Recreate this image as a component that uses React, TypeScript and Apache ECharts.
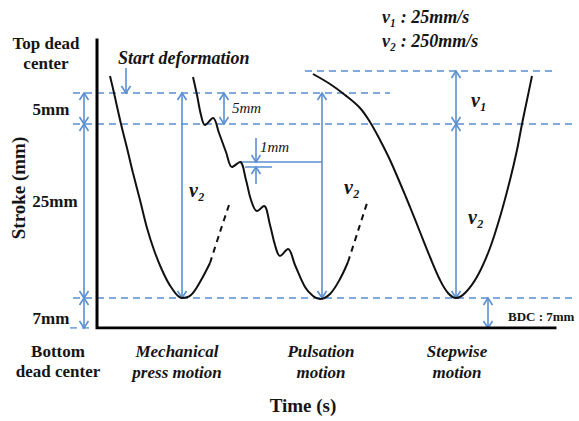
import React, { useEffect, useRef } from 'react';
import * as echarts from 'echarts';

// Schematic stroke levels (stroke units, 0 = axis)
const LEVEL_TOP = 257;      // stepwise top dead center
const LEVEL_START = 235;    // start of deformation
const LEVEL_DEFORM = 204;   // after 5mm
const LEVEL_BDC = 30;       // bottom dead center (7mm above axis)

const axisFrame = [[0, 288], [0, 0], [458, 0]];

// guide lines: [y, xFrom, xTo]
const dashedGuides = [
  [LEVEL_TOP, 208, 456],
  [LEVEL_START, -24, 293],
  [LEVEL_DEFORM, -24, 476],
  [LEVEL_BDC, -24, 478],
  [0, -27, -5],
];
const solidGuides = [
  [166, 143, 225],
  [161, 148, 175],
];

const mechanicalSolid = [
  [13, 252], [17, 235], [24, 204], [30, 180], [36, 155], [43, 128], [50, 100],
  [57, 78], [65, 58], [74, 41], [85, 30], [94, 33], [103, 46], [113, 65],
];
const mechanicalDashed = [[113, 65], [123, 96], [133, 126]];

const pulsationSolid = [
  [96, 251], [100, 233], [104, 213], [108, 203], [116, 210], [122, 195], [129, 176],
  [135, 161], [143, 166], [149, 148], [154, 128], [160, 117], [167, 122], [173, 103],
  [178, 83], [183, 72], [191, 79], [198, 63], [208, 41], [216, 32], [223, 29],
  [233, 34], [243, 49], [251, 66],
];
const pulsationDashed = [[251, 66], [261, 97], [271, 128]];

const stepwise = [
  [216, 254], [233, 244], [248, 233], [263, 220], [273, 206], [283, 188], [293, 168],
  [303, 145], [313, 121], [323, 96], [333, 71], [343, 48], [351, 35], [359, 30],
  [369, 36], [381, 53], [393, 80], [403, 111], [413, 148], [420, 178], [425, 204],
  [430, 228], [435, 252],
];

// arrows: [x1, y1, x2, y2, bothHeads]
const arrows = [
  [-13, LEVEL_DEFORM, -13, LEVEL_START, 1],
  [-13, LEVEL_BDC, -13, LEVEL_DEFORM, 1],
  [-13, 0, -13, LEVEL_BDC, 1],
  [29, 260, 29, LEVEL_START, 0],
  [85, LEVEL_BDC, 85, LEVEL_START, 1],
  [127, LEVEL_DEFORM, 127, LEVEL_START, 1],
  [225, LEVEL_BDC, 225, LEVEL_START, 1],
  [159, 190, 159, 166, 0],
  [159, 144, 159, 161, 0],
  [359, LEVEL_DEFORM, 359, LEVEL_TOP, 1],
  [359, LEVEL_BDC, 359, LEVEL_DEFORM, 1],
  [391, 0, 391, LEVEL_BDC, 1],
];

const BLUE = '#5a8fd2';
const SERIF = "'Liberation Serif', 'DejaVu Serif', serif";

function txt(text: string, x: number, y: number, font: string, align = 'center', extra: any = {}) {
  return {
    type: 'text',
    x,
    y,
    silent: true,
    style: {
      text,
      font,
      fill: '#151515',
      align,
      verticalAlign: 'middle',
      textAlign: align,
      textVerticalAlign: 'middle',
    },
    ...extra,
  };
}

export default function App() {
  const ref = useRef<HTMLDivElement>(null);
  useEffect(() => {
    if (!ref.current) return;
    const chart = echarts.init(ref.current, undefined, { renderer: 'svg' });
    const bold17 = `bold 17px ${SERIF}`;
    const bi17 = `italic bold 17px ${SERIF}`;
    const series: any[] = [];
    series.push({
      type: 'line', data: axisFrame, symbol: 'none', silent: true, z: 5,
      lineStyle: { color: '#000', width: 3, cap: 'square', join: 'miter' },
    });
    dashedGuides.forEach(([y, a, b]) => {
      series.push({
        type: 'line', data: [[a, y], [b, y]], symbol: 'none', silent: true, z: 2,
        lineStyle: { color: BLUE, width: 1.6, type: [7, 5] },
      });
    });
    solidGuides.forEach(([y, a, b]) => {
      series.push({
        type: 'line', data: [[a, y], [b, y]], symbol: 'none', silent: true, z: 2,
        lineStyle: { color: BLUE, width: 1.6 },
      });
    });
    const curve = (data: number[][], dashed = false) => ({
      type: 'line', data, symbol: 'none', silent: true, smooth: 0.35, z: 4,
      lineStyle: { color: '#111', width: 2, type: dashed ? [6, 5] : 'solid' },
    });
    series.push(curve(mechanicalSolid));
    series.push(curve(mechanicalDashed, true));
    series.push(curve(pulsationSolid));
    series.push(curve(pulsationDashed, true));
    series.push(curve(stepwise));
    series.push({
      type: 'custom',
      silent: true,
      z: 3,
      data: arrows,
      encode: { x: [0, 2], y: [1, 3] },
      renderItem: (params: any, api: any) => {
        const p1 = api.coord([api.value(0), api.value(1)]);
        const p2 = api.coord([api.value(2), api.value(3)]);
        const both = api.value(4) === 1;
        const dx = p2[0] - p1[0];
        const dy = p2[1] - p1[1];
        const len = Math.sqrt(dx * dx + dy * dy) || 1;
        const ux = dx / len;
        const uy = dy / len;
        const L = 7;
        const W = 4.5;
        const head = (tip: number[], sx: number, sy: number) => {
          const bx = tip[0] - sx * L;
          const by = tip[1] - sy * L;
          return {
            type: 'polyline',
            shape: { points: [[bx - sy * W, by + sx * W], tip, [bx + sy * W, by - sx * W]] },
            style: { stroke: BLUE, lineWidth: 1.6, fill: 'none' },
          };
        };
        const children: any[] = [
          { type: 'line', shape: { x1: p1[0], y1: p1[1], x2: p2[0], y2: p2[1] }, style: { stroke: BLUE, lineWidth: 1.6 } },
          head(p2, ux, uy),
        ];
        if (both) children.push(head(p1, -ux, -uy));
        return { type: 'group', children };
      },
    });

    chart.setOption({
      animation: false,
      backgroundColor: '#fff',
      grid: { left: 67, right: 0, top: 28, bottom: 93 },
      xAxis: { type: 'value', min: -30, max: 482, show: false },
      yAxis: { type: 'value', min: 0, max: 300, show: false },
      series,
      graphic: [
        txt('Top dead', 46, 43, bold17),
        txt('center', 46, 63, bold17),
        txt('5mm', 51, 109, bold17),
        txt('25mm', 55, 201, bold17),
        txt('7mm', 51, 318, bold17),
        txt('Bottom', 58, 351, bold17),
        txt('dead center', 58, 371, bold17),
        txt('Stroke (mm)', 18, 188, `bold 19px ${SERIF}`, 'center', { rotation: Math.PI / 2 }),
        txt('Start deformation', 118, 58, `italic bold 18px ${SERIF}`, 'left'),
        txt('v\u2081 : 25mm/s', 382, 17, `italic bold 18px ${SERIF}`, 'left'),
        txt('v\u2082 : 250mm/s', 382, 41, `italic bold 18px ${SERIF}`, 'left'),
        txt('5mm', 232, 108, `italic 15px ${SERIF}`, 'left'),
        txt('1mm', 260, 147, `italic 15px ${SERIF}`, 'left'),
        txt('v\u2082', 197, 190, `italic bold 20px ${SERIF}`),
        txt('v\u2082', 352, 187, `italic bold 20px ${SERIF}`),
        txt('v\u2082', 476, 217, `italic bold 20px ${SERIF}`),
        txt('v\u2081', 479, 100, `italic bold 20px ${SERIF}`),
        txt('BDC : 7mm', 508, 316, `bold 13px ${SERIF}`, 'left'),
        txt('Mechanical', 177, 351, bi17),
        txt('press motion', 177, 372, bi17),
        txt('Pulsation', 321, 351, bi17),
        txt('motion', 321, 372, bi17),
        txt('Stepwise', 457, 351, bi17),
        txt('motion', 457, 372, bi17),
        txt('Time (s)', 303, 405, `bold 19px ${SERIF}`),
      ],
    });
    return () => chart.dispose();
  }, []);
  return (
    <div
      ref={ref}
      style={{ position: 'fixed', left: 0, top: 0, width: 579, height: 421, background: '#fff' }}
    />
  );
}
